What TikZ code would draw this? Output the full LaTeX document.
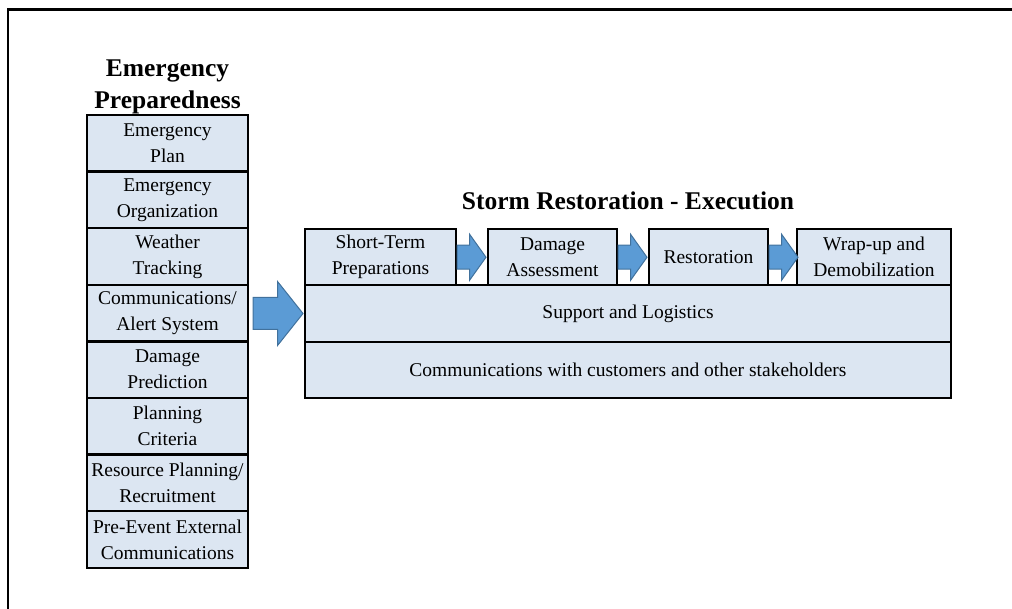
\documentclass[tikz,border=0pt]{standalone}
\usepackage{fontspec}
\setmainfont{Liberation Serif}
\usetikzlibrary{calc,positioning,shapes.arrows}
\definecolor{boxfill}{HTML}{DCE6F2}
\definecolor{arrowfill}{HTML}{5B9BD5}
\definecolor{arrowline}{HTML}{41719C}
\tikzset{box label/.style={font=\fontsize{19.5}{26}\selectfont},title label/.style={font=\fontsize{25.5}{31.5}\selectfont\bfseries,inner sep=0pt},
plan box/.style={draw,line width=2.4pt,fill=boxfill,inner sep=0pt,outer sep=0pt,align=center,box label},
block arrow/.style={single arrow,draw=arrowline,line width=1pt,fill=arrowfill,inner xsep=0pt,outer sep=0pt,single arrow head indent=0pt},
small arrow/.style={block arrow,inner ysep=11.5pt,minimum height=29pt,single arrow head extend=11pt,single arrow tip angle=109,anchor=west}}

\begin{document}
\begin{tikzpicture}[x=1pt,y=-1pt]
			\useasboundingbox (0,0) rectangle (1012,609);
			\draw[line width=2.2pt] (8,609) -- (8,9.5) -- (1012,9.5);
			% preparedness column
			\node[title label,align=center,anchor=south] (eptitle) at (167.5,114) {Emergency\\Preparedness};
			\foreach \txt [count=\i] in {{Emergency\\Plan},{Emergency\\Organization},{Weather\\Tracking},{Communications/\\Alert System},{Damage\\Prediction},{Planning\\Criteria},{Resource Planning/\\Recruitment},{Pre-Event External\\Communications}}
				\node[plan box,minimum width=161pt,minimum height=56.6pt] (ep\i) at (167.5,{115+56.6*(\i-0.5)}) {\txt};
			% execution block
			\node[title label,anchor=base] (srtitle) at (628,210) {Storm Restoration - Execution};
			\node[plan box,minimum width=646pt,minimum height=56.5pt] (sup) at (628,313.5) {Support and Logistics};
			\node[plan box,minimum width=646pt,minimum height=56.5pt,below=0pt of sup] (comm) {Communications with customers and other stakeholders};
			\node[plan box,minimum width=151pt,minimum height=56pt,anchor=south west] (stp) at (sup.north west) {Short-Term\\Preparations};
			\node[plan box,minimum width=129pt,minimum height=56pt,anchor=south west] (dam) at ($(sup.north west)+(183,0)$) {Damage\\Assessment};
			\node[plan box,minimum width=119pt,minimum height=56pt,anchor=south west] (rest) at ($(sup.north west)+(344,0)$) {Restoration};
			\node[plan box,minimum width=154pt,minimum height=56pt,anchor=south east] (wrap) at (sup.north east) {Wrap-up and\\Demobilization};
			% arrows
			\node[block arrow,inner ysep=15.5pt,minimum height=50pt,single arrow head extend=16pt,single arrow tip angle=103,anchor=east] (bigarrow) at ($(sup.west)+(-2,0)$) {};
			\node[small arrow] (arr1) at ($(stp.east)+(1,0)$) {};
			\node[small arrow] (arr2) at ($(dam.east)+(1,0)$) {};
			\node[small arrow] (arr3) at ($(rest.east)+(1,0)$) {};
		\end{tikzpicture}
\end{document}
